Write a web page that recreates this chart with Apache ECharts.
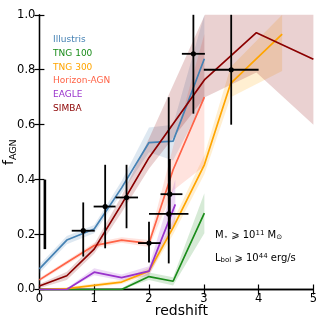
<!DOCTYPE html>
<html>
<head>
<meta charset="utf-8">
<script src="https://cdn.jsdelivr.net/npm/echarts@6/dist/echarts.min.js"></script>
<style>
  html, body { margin: 0; padding: 0; background: #fff; }
  #chart { width: 331px; height: 323px; }
</style>
</head>
<body>
<div id="chart"></div>
<script>
// simulation curves: redshift, AGN fraction and the shaded range
const illustrisZ = [0, 0.5, 1, 1.5, 2, 2.44, 3.01]
const illustrisF = [0.075, 0.18, 0.22, 0.37, 0.535, 0.54, 0.84]
const illustrisLo = [0.06, 0.165, 0.205, 0.35, 0.5, 0.47, 0.69]
const illustrisHi = [0.09, 0.195, 0.235, 0.395, 0.59, 0.6, 1.0]

const tng100Z = [0, 0.5, 1, 1.5, 2, 2.44, 3.01]
const tng100F = [0, 0, 0, 0, 0.047, 0.03, 0.278]
const tng100Lo = [0, 0, 0, 0, 0.035, 0.015, 0.205]
const tng100Hi = [0.003, 0.003, 0.003, 0.005, 0.062, 0.045, 0.35]

const tng300Z = [0, 0.5, 1, 1.5, 2, 2.44, 3.01, 3.49, 4.43]
const tng300F = [0, 0.003, 0.015, 0.027, 0.067, 0.225, 0.454, 0.75, 0.93]
const tng300Lo = [0, 0, 0.008, 0.02, 0.055, 0.2, 0.42, 0.7, 0.795]
const tng300Hi = [0.003, 0.008, 0.022, 0.035, 0.08, 0.25, 0.49, 0.81, 1.0]

const horizonZ = [0, 0.5, 1, 1.5, 2, 2.44, 3.01]
const horizonF = [0.035, 0.098, 0.16, 0.18, 0.168, 0.436, 0.7]
const horizonLo = [0.028, 0.09, 0.15, 0.17, 0.155, 0.36, 0.45]
const horizonHi = [0.042, 0.106, 0.17, 0.19, 0.18, 0.52, 0.93]

const eagleZ = [0, 0.5, 1, 1.5, 2, 2.48]
const eagleF = [0, 0, 0.063, 0.043, 0.067, 0.31]
const eagleLo = [0, 0, 0.052, 0.033, 0.05, 0.24]
const eagleHi = [0.003, 0.005, 0.077, 0.055, 0.085, 0.4]

const simbaZ = [0, 0.5, 1, 1.5, 2, 3.02, 3.96, 5]
const simbaF = [0.013, 0.05, 0.147, 0.31, 0.48, 0.765, 0.935, 0.838]
const simbaLo = [0.005, 0.035, 0.13, 0.28, 0.44, 0.7, 0.79, 0.6]
const simbaHi = [0.02, 0.065, 0.165, 0.34, 0.55, 1.0, 1.0, 1.0]

// observed points with x/y error ranges
const obsZ = [0.8, 1.2, 1.59, 2.0, 2.38, 2.36, 2.81, 3.5]
const obsF = [0.214, 0.302, 0.335, 0.169, 0.347, 0.275, 0.858, 0.8]
const obsZLo = [0.59, 0.99, 1.39, 1.8, 2.21, 2.0, 2.6, 3.0]
const obsZHi = [1.01, 1.39, 1.8, 2.21, 2.61, 2.72, 3.02, 4.0]
const obsFLo = [0.12, 0.15, 0.223, 0.098, 0.22, 0.095, 0.64, 0.6]
const obsFHi = [0.317, 0.454, 0.454, 0.247, 0.475, 0.7, 1.0, 1.0]

// systematic error bar near the y axis
const sysZ = [0.1]
const sysLo = [0.147]
const sysHi = [0.4]

const xTicks = [0, 1, 2, 3, 4, 5]
const yTicks = [0, 0.2, 0.4, 0.6, 0.8, 1.0]

const sims = [
  { name: 'Illustris', color: '#4682b4', z: illustrisZ, f: illustrisF, lo: illustrisLo, hi: illustrisHi },
  { name: 'TNG 100', color: '#1a8c1a', z: tng100Z, f: tng100F, lo: tng100Lo, hi: tng100Hi },
  { name: 'TNG 300', color: '#ffa500', z: tng300Z, f: tng300F, lo: tng300Lo, hi: tng300Hi },
  { name: 'Horizon-AGN', color: '#ff6347', z: horizonZ, f: horizonF, lo: horizonLo, hi: horizonHi },
  { name: 'EAGLE', color: '#9932cc', z: eagleZ, f: eagleF, lo: eagleLo, hi: eagleHi },
  { name: 'SIMBA', color: '#8b0000', z: simbaZ, f: simbaF, lo: simbaLo, hi: simbaHi }
]

const font = 'DejaVu Sans'
const chart = echarts.init(document.getElementById('chart'))

function bandSeries(sim) {
  return {
    type: 'custom',
    name: sim.name + ' range',
    silent: true,
    z: 1,
    data: sim.z.map((v, i) => [v, sim.lo[i], sim.hi[i]]),
    renderItem(params, api) {
      if (params.dataIndex !== 0) return
      const upper = sim.z.map((v, i) => api.coord([v, sim.hi[i]]))
      const lower = sim.z.map((v, i) => api.coord([v, sim.lo[i]])).reverse()
      return {
        type: 'polygon',
        shape: { points: upper.concat(lower) },
        style: { fill: sim.color, opacity: 0.18 }
      }
    }
  }
}

function lineSeries(sim) {
  return {
    type: 'line',
    name: sim.name,
    z: 2,
    symbol: 'none',
    data: sim.z.map((v, i) => [v, sim.f[i]]),
    lineStyle: { color: sim.color, width: 1.7 },
    itemStyle: { color: sim.color }
  }
}

const axisLine = { lineStyle: { color: '#000', width: 1.3 } }
const axisTick = { show: true, inside: true, length: 5, lineStyle: { color: '#000', width: 1.2 } }

chart.setOption({
  animation: false,
  grid: { left: 39.4, right: 17.6, top: 14.8, bottom: 33.5, outerBoundsMode: 'none', containLabel: false },
  legend: {
    orient: 'vertical',
    left: 48,
    top: 35,
    padding: 0,
    icon: 'none',
    itemWidth: 0.1,
    itemHeight: 10,
    itemGap: 3.7,
    selectedMode: false,
    textStyle: { fontFamily: font, fontSize: 9, lineHeight: 10 },
    data: sims.map(s => ({ name: s.name, textStyle: { color: s.color } }))
  },
  xAxis: [
    {
      type: 'value',
      min: xTicks[0],
      max: xTicks[xTicks.length - 1],
      interval: 1,
      name: 'redshift',
      nameLocation: 'middle',
      nameGap: 15,
      nameMoveOverlap: false,
      nameTextStyle: { fontFamily: font, fontSize: 14, color: '#000', padding: [0, 0, 0, 10] },
      axisLine,
      axisTick,
      splitLine: { show: false },
      axisLabel: { fontFamily: font, fontSize: 11.5, color: '#000', margin: 4 }
    },
    {
      type: 'value',
      position: 'top',
      min: xTicks[0],
      max: xTicks[xTicks.length - 1],
      interval: 1,
      axisLine,
      axisTick,
      splitLine: { show: false },
      axisLabel: { show: false }
    }
  ],
  yAxis: [
    {
      type: 'value',
      min: yTicks[0],
      max: yTicks[yTicks.length - 1],
      interval: 0.2,
      name: '{f|f}{s|AGN}',
      nameLocation: 'middle',
      nameGap: 21,
      nameMoveOverlap: false,
      nameTextStyle: {
        color: '#000',
        rich: {
          f: { fontFamily: font, fontSize: 14, color: '#000', lineHeight: 18 },
          s: { fontFamily: font, fontSize: 9.5, color: '#000', verticalAlign: 'bottom', lineHeight: 18, padding: [6, 0, 0, 0] }
        }
      },
      axisLine,
      axisTick,
      splitLine: { show: false },
      axisLabel: { fontFamily: font, fontSize: 11.5, color: '#000', margin: 4, formatter: v => v.toFixed(1) }
    },
    {
      type: 'value',
      position: 'right',
      min: yTicks[0],
      max: yTicks[yTicks.length - 1],
      interval: 0.2,
      axisLine,
      axisTick,
      splitLine: { show: false },
      axisLabel: { show: false }
    }
  ],
  graphic: [
    {
      type: 'text',
      left: 215,
      top: 230,
      style: {
        text: 'M{s|⋆} ⩾ 10{p|11} M{s|⊙}',
        font: '10px "DejaVu Sans"',
        fill: '#000',
        rich: {
          s: { fontSize: 7, fontFamily: font, fill: '#000', verticalAlign: 'bottom', padding: [4, 0, 0, 0] },
          p: { fontSize: 7, fontFamily: font, fill: '#000', verticalAlign: 'top', padding: [0, 0, 4, 0] }
        }
      }
    },
    {
      type: 'text',
      left: 215,
      top: 253,
      style: {
        text: 'L{s|bol} ⩾ 10{p|44} erg/s',
        font: '10px "DejaVu Sans"',
        fill: '#000',
        rich: {
          s: { fontSize: 7, fontFamily: font, fill: '#000', verticalAlign: 'bottom', padding: [4, 0, 0, 0] },
          p: { fontSize: 7, fontFamily: font, fill: '#000', verticalAlign: 'top', padding: [0, 0, 4, 0] }
        }
      }
    }
  ],
  series: [
    ...sims.map(bandSeries),
    ...sims.map(lineSeries),
    {
      type: 'custom',
      name: 'observed',
      z: 3,
      silent: true,
      data: obsZ.map((v, i) => [v, obsF[i], obsZLo[i], obsZHi[i], obsFLo[i], obsFHi[i]]),
      renderItem(params, api) {
        const c = api.coord([api.value(0), api.value(1)])
        const l = api.coord([api.value(2), api.value(1)])
        const r = api.coord([api.value(3), api.value(1)])
        const b = api.coord([api.value(0), api.value(4)])
        const t = api.coord([api.value(0), api.value(5)])
        const st = { stroke: '#000', lineWidth: 1.8 }
        return {
          type: 'group',
          children: [
            { type: 'line', shape: { x1: l[0], y1: l[1], x2: r[0], y2: r[1] }, style: st },
            { type: 'line', shape: { x1: b[0], y1: b[1], x2: t[0], y2: t[1] }, style: st },
            { type: 'circle', shape: { cx: c[0], cy: c[1], r: 2.6 }, style: { fill: '#000' } }
          ]
        }
      }
    },
    {
      type: 'custom',
      name: 'systematic',
      z: 3,
      silent: true,
      data: sysZ.map((v, i) => [v, sysLo[i], sysHi[i]]),
      renderItem(params, api) {
        const b = api.coord([api.value(0), api.value(1)])
        const t = api.coord([api.value(0), api.value(2)])
        return {
          type: 'line',
          shape: { x1: b[0], y1: b[1], x2: t[0], y2: t[1] },
          style: { stroke: '#000', lineWidth: 2.6 }
        }
      }
    }
  ]
})
</script>
</body>
</html>
